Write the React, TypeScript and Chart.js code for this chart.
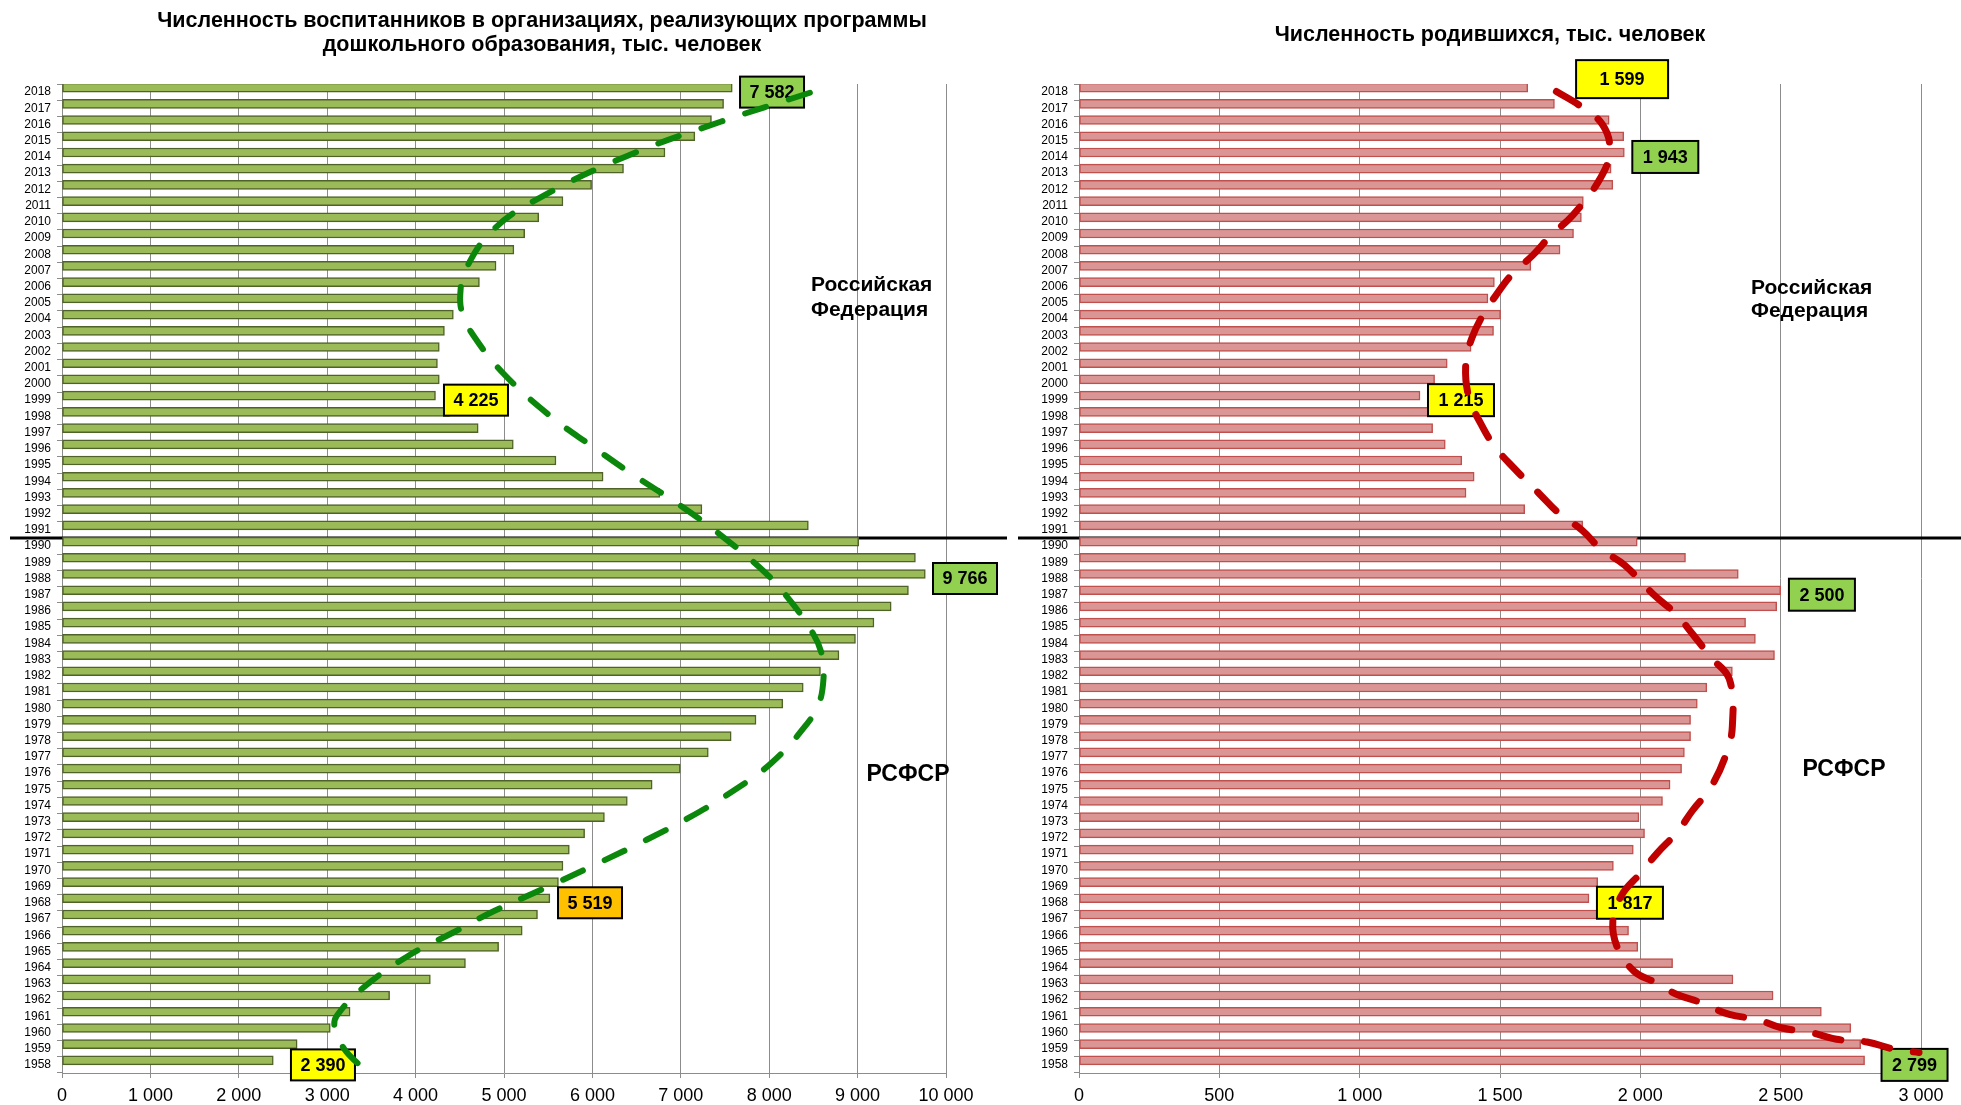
import React, { useEffect, useRef } from 'react';
import { Chart, registerables } from 'chart.js';
Chart.register(...registerables);

// ---------- categories ----------
const yearLabels = [
  '2018','2017','2016','2015','2014','2013','2012','2011','2010','2009','2008','2007','2006','2005','2004','2003',
  '2002','2001','2000','1999','1998','1997','1996','1995','1994','1993','1992','1991','1990','1989','1988','1987',
  '1986','1985','1984','1983','1982','1981','1980','1979','1978','1977','1976','1975','1974','1973','1972',
  '1971','1970','1969','1968','1967','1966','1965','1964','1963','1962','1961','1960','1959','1958'
];

// ---------- series ----------
const pupilValues = [
  7582, 7484, 7347, 7159, 6821, 6352, 5991, 5667, 5393, 5234, 5112, 4910, 4722, 4506, 4427, 4326,
  4268, 4247, 4268, 4225, 4384, 4708, 5105, 5588, 6121, 6763, 7239, 8443, 9012, 9654, 9766, 9575,
  9380, 9185, 8976, 8789, 8580, 8385, 8154, 7851, 7570, 7311, 6994, 6676, 6395, 6136, 5912,
  5739, 5667, 5616, 5519, 5379, 5206, 4939, 4564, 4167, 3706, 3259, 3035, 2660, 2390
];
const birthValues = [
  1599, 1694, 1889, 1941, 1943, 1896, 1902, 1797, 1790, 1762, 1714, 1610, 1480, 1457, 1502, 1477,
  1397, 1312, 1267, 1215, 1283, 1260, 1305, 1364, 1408, 1379, 1588, 1795, 1989, 2161, 2349, 2500,
  2486, 2375, 2410, 2478, 2328, 2237, 2203, 2179, 2179, 2157, 2147, 2106, 2079, 1995, 2015,
  1975, 1904, 1848, 1817, 1851, 1958, 1991, 2115, 2330, 2473, 2645, 2750, 2785, 2799
];

// ---------- axis ticks ----------
const pupilAxisMax = 10000;
const pupilAxisStep = 1000;
const birthAxisMax = 3000;
const birthAxisStep = 500;

// ---------- hand-drawn trend curves (value, year) ----------
const greenCurveValues = [
  8460, 7450, 6400, 5393, 4874, 4564, 4506, 4528, 4650, 4996, 5537, 6006, 6438, 7015, 7448, 7880, 8169,
  8493, 8601, 8616, 8565, 8421, 8025, 7556, 7087, 6619, 6078, 5429, 4888, 4420, 3915, 3410, 3107, 3086, 3194, 3374
];
const greenCurveYears = [
  2017.96, 2016.17, 2014.08, 2011.45, 2009.49, 2007.03, 2005.59, 2004.36, 2003.02, 2000.63, 1997.96, 1996.12, 1994.48, 1992.43, 1990.69, 1988.74, 1987.1,
  1984.64, 1983.2, 1981.97, 1980.32, 1978.99, 1976.62, 1974.77, 1973.23, 1971.9, 1970.47, 1968.82, 1967.49, 1966.15, 1964.72, 1962.77, 1961.02, 1960.3, 1958.97, 1957.94
];
const redCurveValues = [
  1701, 1788, 1865, 1891, 1858, 1760, 1683, 1618, 1541, 1483, 1443, 1400, 1378, 1389, 1432, 1483, 1552, 1640, 1705,
  1793, 1858, 1945, 2044, 2127, 2186, 2251, 2317, 2328, 2306, 2251, 2186, 2131, 2061, 2000, 1934, 1902, 1919, 1978,
  2044, 2131, 2218, 2317, 2415, 2502, 2611, 2699, 2808, 2906, 2993
];
const redCurveYears = [
  2018.04, 2017.12, 2016.0, 2014.41, 2012.7, 2010.42, 2009.19, 2007.96, 2006.73, 2005.4, 2004.37, 2002.84, 2001.24, 1999.19, 1997.54, 1996.1, 1994.77, 1993.23, 1992.1,
  1990.97, 1989.84, 1988.81, 1987.06, 1985.81, 1984.58, 1983.14, 1981.8, 1978.93, 1977.18, 1975.12, 1973.69, 1972.35, 1971.08, 1969.81, 1968.48, 1966.84, 1965.21, 1963.77,
  1963.16, 1962.34, 1961.83, 1961.11, 1960.81, 1960.29, 1959.98, 1959.58, 1959.41, 1958.96, 1958.76
];

// ---------- callout labels ----------
const pupilNoteTexts = ['7 582', '4 225', '9 766', '5 519', '2 390'];
const pupilNoteValues = [8032, 4683, 10215, 5973, 2952];
const pupilNoteYears = [2018, 1999, 1988, 1968, 1958];
const birthNoteTexts = ['1 599', '1 943', '1 215', '2 500', '1 817', '2 799'];
const birthNoteValues = [1935, 2089, 1361, 2647, 1963, 2977];
const birthNoteYears = [2018.8, 2014, 1999, 1987, 1968, 1958];

const separatorYear = '1991';

const fmt = (v: number) => String(v).replace(/\B(?=(\d{3})+(?!\d))/g, ' ');

type Panel = {
  width: number;
  yWidth: number;
  padRight: number;
  values: number[];
  axisMax: number;
  axisStep: number;
  barFill: string;
  barBorder: string;
  curveValues: number[];
  curveYears: number[];
  curveColor: string;
  curveDash: number[];
  curveWidth: number;
  noteTexts: string[];
  noteValues: number[];
  noteYears: number[];
  noteColors: string[];
  noteW: number[];
  noteH: number[];
  sepFrom: number;
  sepTo: number;
  title: string[];
  titleX: number;
  titleY: number[];
  rfX: number;
  rfY: number[];
  rsX: number;
  rsY: number;
};

const FONT = '"Liberation Sans", Arial, sans-serif';

function makeConfig(p: Panel): any {
  const decor = {
    id: 'decor',
    beforeDatasetsDraw(chart: any) {
      const ctx = chart.ctx;
      const ys = chart.scales.y;
      const i = yearLabels.indexOf(separatorYear);
      const yPix = (ys.getPixelForValue(i) + ys.getPixelForValue(i + 1)) / 2;
      ctx.save();
      ctx.strokeStyle = '#000';
      ctx.lineWidth = 3;
      ctx.beginPath();
      ctx.moveTo(p.sepFrom, yPix);
      ctx.lineTo(p.sepTo, yPix);
      ctx.stroke();
      ctx.restore();
    },
    afterDatasetDraw(chart: any, args: any) {
      if (args.index !== 0) return;
      const ctx = chart.ctx;
      const xs = chart.scales.x;
      const yy = chart.scales.yy;
      ctx.save();
      p.noteTexts.forEach((t, k) => {
        const cx = xs.getPixelForValue(p.noteValues[k]);
        const cy = yy.getPixelForValue(p.noteYears[k]);
        const w = p.noteW[k];
        const h = p.noteH[k];
        ctx.fillStyle = p.noteColors[k];
        ctx.fillRect(cx - w / 2, cy - h / 2, w, h);
        ctx.strokeStyle = '#000';
        ctx.lineWidth = 2;
        ctx.strokeRect(cx - w / 2, cy - h / 2, w, h);
        ctx.fillStyle = '#000';
        ctx.font = 'bold 18px ' + FONT;
        ctx.textAlign = 'center';
        ctx.textBaseline = 'middle';
        ctx.fillText(t, cx, cy + 1);
      });
      ctx.restore();
    },
    afterDraw(chart: any) {
      const ctx = chart.ctx;
      ctx.save();
      ctx.fillStyle = '#000';
      ctx.textBaseline = 'middle';
      ctx.textAlign = 'center';
      ctx.font = 'bold 21.5px ' + FONT;
      p.title.forEach((line, k) => ctx.fillText(line, p.titleX, p.titleY[k]));
      ctx.textAlign = 'left';
      ctx.font = 'bold 21px ' + FONT;
      ctx.fillText('Российская', p.rfX, p.rfY[0]);
      ctx.fillText('Федерация', p.rfX, p.rfY[1]);
      ctx.textAlign = 'center';
      ctx.font = 'bold 23px ' + FONT;
      ctx.fillText('РСФСР', p.rsX, p.rsY);
      ctx.restore();
    }
  };

  return {
    type: 'bar',
    data: {
      labels: yearLabels,
      datasets: [
        {
          type: 'bar',
          data: p.values,
          indexAxis: 'y',
          xAxisID: 'x',
          yAxisID: 'y',
          backgroundColor: p.barFill,
          borderColor: p.barBorder,
          borderWidth: 1.5,
          borderSkipped: false,
          barThickness: 9,
          order: 1
        },
        {
          type: 'line',
          indexAxis: 'y',
          xAxisID: 'x',
          yAxisID: 'yy',
          data: p.curveValues.map((v, k) => ({ x: v, y: p.curveYears[k] })),
          borderColor: p.curveColor,
          borderWidth: p.curveWidth,
          borderDash: p.curveDash,
          borderCapStyle: 'round',
          borderJoinStyle: 'round',
          pointRadius: 0,
          tension: 0.4,
          fill: false,
          clip: false,
          order: 0
        }
      ]
    },
    options: {
      indexAxis: 'y',
      animation: false,
      responsive: false,
      devicePixelRatio: 1,
      events: [],
      layout: { padding: { left: 0, top: 84, right: p.padRight, bottom: 0 } },
      plugins: { legend: { display: false }, tooltip: { enabled: false }, title: { display: false } },
      scales: {
        x: {
          type: 'linear',
          position: 'bottom',
          min: 0,
          max: p.axisMax,
          ticks: {
            stepSize: p.axisStep,
            color: '#000',
            font: { family: FONT, size: 18 },
            padding: 7,
            maxRotation: 0,
            callback: (v: any) => fmt(Number(v))
          },
          grid: { color: '#8C8C8C', lineWidth: 1, drawTicks: true, tickLength: 5 },
          border: { color: '#8C8C8C', width: 1 },
          afterFit: (s: any) => { s.height = 32; }
        },
        y: {
          type: 'category',
          position: 'left',
          offset: true,
          ticks: { color: '#000', font: { family: FONT, size: 12 }, padding: 6, autoSkip: false },
          grid: { offset: true, drawOnChartArea: false, drawTicks: true, tickLength: 5, color: '#8C8C8C' },
          border: { color: '#8C8C8C', width: 1 },
          afterFit: (s: any) => { s.width = p.yWidth; }
        },
        yy: {
          type: 'linear',
          display: false,
          position: 'left',
          offset: false,
          grid: { offset: false },
          bounds: 'data',
          min: 1957.5,
          max: 2018.5
        }
      }
    },
    plugins: [decor]
  };
}

const leftPanel: Panel = {
  width: 1012,
  yWidth: 62,
  padRight: 66,
  values: pupilValues,
  axisMax: pupilAxisMax,
  axisStep: pupilAxisStep,
  barFill: '#9BBB59',
  barBorder: '#4F6228',
  curveValues: greenCurveValues,
  curveYears: greenCurveYears,
  curveColor: '#0B870B',
  curveDash: [22, 24],
  curveWidth: 6,
  noteTexts: pupilNoteTexts,
  noteValues: pupilNoteValues,
  noteYears: pupilNoteYears,
  noteColors: ['#92D050', '#FFFF00', '#92D050', '#FFC000', '#FFFF00'],
  noteW: [64, 64, 64, 64, 64],
  noteH: [31, 31, 31, 31, 31],
  sepFrom: 10,
  sepTo: 1007,
  title: ['Численность воспитанников в организациях, реализующих программы', 'дошкольного образования, тыс. человек'],
  titleX: 542,
  titleY: [21, 45],
  rfX: 811,
  rfY: [285, 310],
  rsX: 908,
  rsY: 775
};

const rightPanel: Panel = {
  width: 949,
  yWidth: 67,
  padRight: 40,
  values: birthValues,
  axisMax: birthAxisMax,
  axisStep: birthAxisStep,
  barFill: '#DA9694',
  barBorder: '#C0504D',
  curveValues: redCurveValues,
  curveYears: redCurveYears,
  curveColor: '#C00000',
  curveDash: [26, 24],
  curveWidth: 7,
  noteTexts: birthNoteTexts,
  noteValues: birthNoteValues,
  noteYears: birthNoteYears,
  noteColors: ['#FFFF00', '#92D050', '#FFFF00', '#92D050', '#FFFF00', '#92D050'],
  noteW: [92, 66, 66, 66, 66, 66],
  noteH: [38, 32, 32, 32, 32, 32],
  sepFrom: 6,
  sepTo: 949,
  title: ['Численность родившихся, тыс. человек'],
  titleX: 478,
  titleY: [35],
  rfX: 739,
  rfY: [288, 311],
  rsX: 832,
  rsY: 770
};

function PanelChart({ panel, left }: { panel: Panel; left: number }) {
  const ref = useRef<HTMLCanvasElement | null>(null);
  useEffect(() => {
    if (!ref.current) return;
    const chart = new Chart(ref.current, makeConfig(panel));
    return () => chart.destroy();
  }, [panel]);
  return (
    <canvas
      ref={ref}
      width={panel.width}
      height={1105}
      style={{ position: 'absolute', left, top: 0, width: panel.width, height: 1105 }}
    />
  );
}

export default function App() {
  return (
    <div style={{ position: 'fixed', left: 0, top: 0, width: 1961, height: 1105, background: '#fff', overflow: 'hidden' }}>
      <PanelChart panel={leftPanel} left={0} />
      <PanelChart panel={rightPanel} left={1012} />
    </div>
  );
}
